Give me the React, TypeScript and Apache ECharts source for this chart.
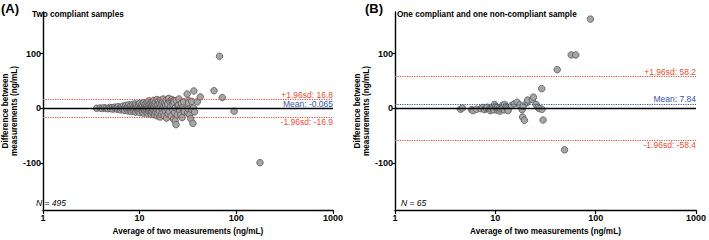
import React, { useEffect, useRef } from "react";
import * as echarts from "echarts";

const FONT = "'Liberation Sans', Arial, Helvetica, sans-serif";
const RED = "#ea4b33";
const BLUE = "#3556a8";

const X_TICKS = [1, 10, 100, 1000];
const Y_TICKS = [-100, 0, 100];
const Y_MIN = -186;
const Y_MAX = 176;

// [average, difference]
const pointsA: number[][] = [
  [3.6, 0], [3.9, 0.5], [4.1, -0.5], [4.3, 1], [4.5, 0], [4.7, -1], [4.9, 1.5], [5.0, -0.5],
  [5.2, 0.8], [5.3, -1.5], [5.5, 2], [5.6, -0.3], [5.8, 1], [5.9, -2], [6.0, 3], [6.1, -1],
  [6.3, 0.5], [6.4, -3], [6.5, 2.5], [6.6, -0.8], [6.8, 4], [6.9, -2.5], [7.0, 1.2], [7.0, -4],
  [7.2, 5], [7.3, 0], [7.4, -1.8], [7.5, 3], [7.6, -5], [7.7, 6.5], [7.8, 1.5], [7.9, -3],
  [8.0, -0.5], [8.1, 4.5], [8.2, -6], [8.3, 2], [8.4, -2], [8.5, 7], [8.6, 0.5], [8.7, -4.5],
  [8.8, 3.5], [8.9, -1], [9.0, 8], [9.1, -7], [9.2, 1], [9.3, 5.5], [9.4, -3], [9.5, -0.3],
  [9.6, 2.8], [9.7, -5.5], [9.8, 6], [9.9, -1.5], [10.0, 9], [10.1, -8], [10.2, 3], [10.3, 0],
  [10.4, -3.5], [10.5, 7], [10.6, 1.5], [10.7, -6], [10.8, 4.5], [10.9, -1], [11.0, 10], [11.1, -9],
  [11.2, 2], [11.3, -4], [11.4, 6], [11.5, -0.5], [11.6, 8.5], [11.7, -7], [11.8, 3.5], [11.9, -2.5],
  [12.0, 11.5], [12.1, 0.8], [12.2, -10], [12.3, 5], [12.4, -5], [12.5, 13.5], [12.6, 1.5], [12.7, -3],
  [12.8, 7.5], [12.9, -8], [13.0, 0], [13.1, 10], [13.2, -11], [13.3, 3], [13.4, -6], [13.5, 12],
  [13.6, -1.5], [13.7, 6], [13.8, -9], [13.9, 2], [14.0, 14.5], [14.1, -4], [14.2, 8], [14.3, -12],
  [14.4, 1], [14.6, 11], [14.7, -7], [14.8, 4], [15.0, -2], [15.1, 16], [15.2, -14], [15.4, 6.5],
  [15.5, -9], [15.7, 13], [15.8, 0.5], [16.0, -5], [16.1, 9], [16.3, -16], [16.5, 3], [16.6, 15],
  [16.8, -11], [17.0, 7], [17.1, -2], [17.3, 12], [17.5, -8], [17.6, 17], [17.8, 2], [18.0, -14],
  [18.2, 10], [18.4, -4], [18.6, 5], [18.8, 14.5], [19.0, -18], [19.2, 0], [19.5, 8], [19.7, -10],
  [19.8, 16.7], [20.0, 18], [20.3, -6], [20.6, 12], [20.9, 3], [21.2, -14], [21.5, 16], [21.7, 12.6],
  [21.8, -2], [22.1, 7], [22.4, -20], [22.5, 13.6], [22.7, 11], [23.0, -8], [23.3, -23], [23.5, 1],
  [23.8, -30], [24.0, 14], [24.5, -12], [25.0, 5], [25.3, 6], [25.5, 17], [25.9, -0.7], [26.0, -4],
  [26.6, -12.6], [27.0, 9], [27.5, -17], [28.0, 2], [28.3, -3], [28.5, 12], [29.0, -6], [31.0, 26],
  [31.4, -8.4], [32.0, 14], [32.0, 10], [32.0, -1.3], [32.9, -11.5], [33.8, -19], [34.6, 12.6],
  [34.6, -2.5], [35.6, -27.6], [36.0, 0.5], [36.4, 31.6], [37.0, -6.6], [39.5, 11.8], [42.4, 20.8],
  [58.8, 32], [67.0, 95], [71.6, 19.7], [95.0, -5.4], [175.7, -99.5],
];

const pointsB: number[][] = [
  [4.5, -1.8], [4.7, 0.5], [5.8, -2.5], [6.0, -4.3], [6.5, -1.8], [7.2, -0.7], [7.5, 1.5],
  [7.8, -2.5], [8.1, 0], [8.3, 2], [8.7, -1.3], [8.9, -4.3], [9.0, -1], [9.3, 1.8], [9.5, 0.8],
  [9.7, -3], [9.8, 7], [10.1, 3.6], [10.2, 0.5], [10.5, 1.5], [10.6, -3.6], [10.8, -2],
  [11.0, 0.5], [11.1, -5.4], [11.3, -1], [11.6, 0.5], [11.8, 5.4], [12.0, 2], [12.3, -3],
  [12.4, 7], [12.8, 2.9], [13.0, 0.5], [13.3, -1.8], [13.4, -4.3], [14.5, 5], [15.5, 8],
  [16.5, 11], [17.5, 6], [18.5, -2.5], [18.7, -16], [18.9, 4], [19.5, -22], [20.7, 10],
  [21.0, 15], [23.4, 16], [24.0, 20.3], [25.5, 7], [26.6, 1.8], [27.5, -0.7], [29.2, -1.8],
  [29.9, -21.5], [29.0, 35.9], [41.4, 70.6], [49.0, -76], [57.0, 97.5], [63.4, 97.5], [88.6, 163],
];

// [upper limit, mean, lower limit]
const limitsA = [16.8, -0.065, -16.9];
const limitsB = [58.2, 7.84, -58.4];

const titles = ["Two compliant samples", "One compliant and one non-compliant sample"];
const panelTags = ["(A)", "(B)"];
const counts = [495, 65];

const GRID_LEFTS = [30, 395];
const GRID_W = 303;
const GRID_TOP = 12;
const GRID_H = 202;

function buildPanel(i: number, data: number[][], limits: number[]) {
  const xAxis = {
    gridIndex: i,
    type: "log",
    logBase: 10,
    min: 1,
    max: 1000,
    axisLine: { show: true, onZero: false, lineStyle: { color: "#000", width: 1.4 } },
    axisTick: { show: true, length: 4, lineStyle: { color: "#000", width: 1.2 } },
    minorTick: { show: false },
    axisLabel: {
      fontFamily: FONT,
      fontWeight: "bold",
      fontSize: 9,
      color: "#000",
      margin: 3,
      customValues: X_TICKS,
      formatter: (v: number) => String(Math.round(v)),
    },
    splitLine: { show: false },
    name: "Average of two measurements (ng/mL)",
    nameLocation: "middle",
    nameGap: 17,
    nameTextStyle: { fontFamily: FONT, fontWeight: "bold", fontSize: 8.2, color: "#000" },
  };
  const yAxis = {
    gridIndex: i,
    type: "value",
    min: Y_MIN,
    max: Y_MAX,
    axisLine: { show: true, onZero: false, lineStyle: { color: "#000", width: 1.4 } },
    axisTick: { show: true, length: 3, customValues: Y_TICKS, lineStyle: { color: "#000", width: 1.2 } },
    axisLabel: {
      fontFamily: FONT,
      fontWeight: "bold",
      fontSize: 9,
      color: "#000",
      margin: 2,
      customValues: Y_TICKS,
    },
    splitLine: { show: false },
    name: "Difference between\nmeasurements (ng/mL)",
    nameLocation: "middle",
    nameGap: 17,
    nameTextStyle: { fontFamily: FONT, fontWeight: "bold", fontSize: 8.2, lineHeight: 9, color: "#000" },
  };
  const lblStyle = { fontFamily: FONT, fontSize: 8.5, distance: 0 };
  const lines = {
    type: "scatter",
    xAxisIndex: i,
    yAxisIndex: i,
    data: [],
    z: 1,
    markLine: {
      silent: true,
      symbol: ["none", "none"],
      animation: false,
      data: [
        {
          yAxis: limits[0],
          lineStyle: { color: RED, type: "dotted", width: 1.2 },
          label: { show: true, position: "insideEndTop", formatter: `+1.96sd: ${limits[0]}`, color: RED, ...lblStyle },
        },
        {
          yAxis: limits[1],
          lineStyle: { color: BLUE, type: "dotted", width: 1.2 },
          label: { show: true, position: "insideEndTop", formatter: `Mean: ${limits[1]}`, color: BLUE, ...lblStyle },
        },
        {
          yAxis: limits[2],
          lineStyle: { color: RED, type: "dotted", width: 1.2 },
          label: { show: true, position: "insideEndBottom", formatter: `-1.96sd: ${limits[2]}`, color: RED, ...lblStyle },
        },
        {
          yAxis: 0,
          lineStyle: { color: "#000", type: "solid", width: 1.3 },
          label: { show: false },
        },
      ],
    },
  };
  const pts = {
    type: "scatter",
    xAxisIndex: i,
    yAxisIndex: i,
    data,
    z: 3,
    symbol: "circle",
    symbolSize: 6.5,
    itemStyle: { color: "#a6a6a6", borderColor: "#555", borderWidth: 0.8, opacity: 1 },
  };
  return { xAxis, yAxis, series: [lines, pts] };
}

export default function App() {
  const ref = useRef<HTMLDivElement>(null);
  useEffect(() => {
    if (!ref.current) return;
    const chart = echarts.init(ref.current, null, { renderer: "svg" });
    const pA = buildPanel(0, pointsA, limitsA);
    const pB = buildPanel(1, pointsB, limitsB);
    const graphic: any[] = [];
    for (let i = 0; i < 2; i++) {
      graphic.push({
        type: "text",
        x: GRID_LEFTS[i] - (i === 0 ? 29 : 30),
        y: 2,
        style: { text: panelTags[i], fontFamily: FONT, fontSize: 13, fontWeight: "bold", fill: "#000" },
      });
      graphic.push({
        type: "text",
        x: GRID_LEFTS[i] + 2,
        y: 10,
        style: { text: titles[i], fontFamily: FONT, fontSize: 8.2, fontWeight: "bold", fill: "#000" },
      });
      graphic.push({
        type: "text",
        x: GRID_LEFTS[i] + 6,
        y: 198,
        style: { text: `N = ${counts[i]}`, fontFamily: FONT, fontSize: 8.5, fontStyle: "italic", fill: "#000" },
      });
    }
    chart.setOption({
      animation: false,
      backgroundColor: "#fff",
      textStyle: { fontFamily: FONT },
      grid: GRID_LEFTS.map((l) => ({ left: l, top: GRID_TOP, width: GRID_W, height: GRID_H, containLabel: false })),
      xAxis: [pA.xAxis, pB.xAxis],
      yAxis: [pA.yAxis, pB.yAxis],
      series: [...pA.series, ...pB.series],
      graphic,
    });
    return () => chart.dispose();
  }, []);
  return (
    <div
      ref={ref}
      style={{ position: "absolute", left: 0, top: 0, width: 709, height: 240 }}
    />
  );
}
